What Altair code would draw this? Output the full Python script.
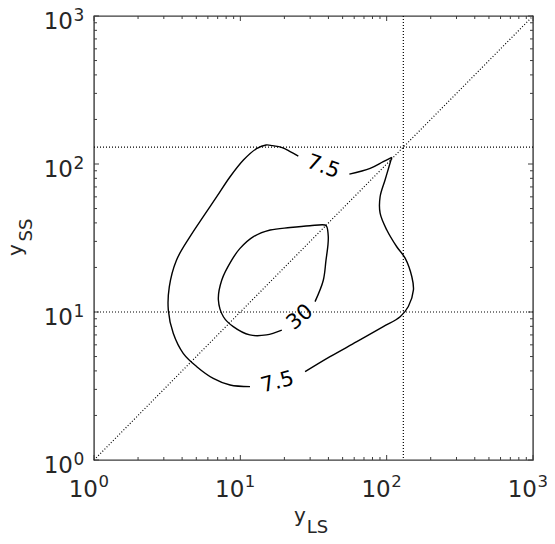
import altair as alt
import pandas as pd

# ---- data (data units, log-log axes) ----
# contour level 7.5 : piece from top label to cusp
c75_a_x = [55.6, 77.1, 94.8, 108.4]
c75_a_y = [85.5, 93.5, 103.8, 110.9]
# contour level 7.5 : from cusp down the right side to bottom label
c75_b_x = [108.4, 105.4, 97.5, 90.2, 90.2, 100.2, 117.2, 133.7, 148.6, 152.4, 140.6, 123.6, 94.8, 62.5, 41.0, 27.7]
c75_b_y = [110.9, 101.2, 78.0, 60.1, 46.5, 35.8, 27.6, 23.1, 17.3, 14.1, 10.9, 9.29, 7.96, 6.30, 4.99, 3.95]
# contour level 7.5 : from bottom label round the left side to top label
c75_c_x = [11.64, 8.51, 6.53, 5.04, 4.07, 3.48, 3.22, 3.27, 3.66, 4.53, 5.58, 6.90, 8.51, 10.5, 12.9, 15.0, 16.6, 19.3, 21.9, 24.9]
c75_c_y = [3.13, 3.21, 3.56, 4.27, 5.26, 7.18, 10.3, 14.8, 22.4, 32.3, 44.1, 60.1, 82.0, 106.4, 127.0, 134.5, 133.0, 129.1, 121.4, 113.2]
# contour level 30
c30_x = [32.4, 36.9, 38.5, 39.7, 39.9, 39.0, 37.9, 29.9, 21.9, 16.0, 12.3, 9.95, 8.73, 7.46, 7.08, 7.66, 8.95, 11.6, 15.1, 19.2]
c30_y = [11.75, 16.4, 22.4, 28.4, 32.3, 37.7, 38.7, 38.3, 37.2, 35.8, 32.3, 26.9, 22.4, 16.4, 12.05, 9.29, 7.96, 7.00, 7.00, 7.55]

label_text = ["7.5", "7.5", "30"]
label_x = [36.8, 17.96, 25.6]
label_y = [95.4, 3.34, 9.18]
label_angle = [20, 345, 320]

vline_x = [130]
hline_y = [10, 130]
diag_x = [1, 1000]
diag_y = [1, 1000]

major_ticks = [1, 10, 100, 1000]
tick_base = ["10", "10", "10", "10"]
tick_exp = ["0", "1", "2", "3"]
minor_ticks = [2, 3, 4, 5, 6, 7, 8, 9,
               20, 30, 40, 50, 60, 70, 80, 90,
               200, 300, 400, 500, 600, 700, 800, 900]

x_title = ["y", "LS"]
y_title = ["y", "SS"]

# ---- build tables ----
rows = []
for seg, (xs_, ys_) in enumerate([(c75_a_x, c75_a_y), (c75_b_x, c75_b_y),
                                   (c75_c_x, c75_c_y), (c30_x, c30_y)]):
    for i, (a, b) in enumerate(zip(xs_, ys_)):
        rows.append({"x": a, "y": b, "seg": seg, "idx": i})
contour_df = pd.DataFrame(rows)
labels_df = pd.DataFrame({"x": label_x, "y": label_y, "t": label_text, "a": label_angle})
vline_df = pd.DataFrame({"x": vline_x})
hline_df = pd.DataFrame({"y": hline_y})
diag_df = pd.DataFrame({"x": diag_x, "y": diag_y})
major_df = pd.DataFrame({"v": major_ticks, "base": tick_base, "exp": tick_exp})
minor_df = pd.DataFrame({"v": minor_ticks})

W, H = 439, 444
FONT = "DejaVu Sans"
TC = "#262626"
AC = "#3c3c3c"
xs = alt.Scale(type="log", domain=[1, 1000], nice=False)
ys = alt.Scale(type="log", domain=[1, 1000], nice=False)


def X(f="x"):
    return alt.X(f"{f}:Q", scale=xs, axis=None)


def Y(f="y"):
    return alt.Y(f"{f}:Q", scale=ys, axis=None)


dots = dict(color="black", strokeWidth=1.2, strokeDash=[1, 2])
vline = alt.Chart(vline_df).mark_rule(**dots).encode(x=X())
hline = alt.Chart(hline_df).mark_rule(**dots).encode(y=Y())
diag = alt.Chart(diag_df).mark_line(**dots).encode(x=X(), y=Y())

contours = alt.Chart(contour_df).mark_line(
    color="black", strokeWidth=1.4, interpolate="catmull-rom"
).encode(x=X(), y=Y(), detail="seg:N", order="idx:Q")

labels = alt.Chart(labels_df).mark_text(
    font=FONT, fontSize=21, color="black", align="center", baseline="middle"
).encode(x=X(), y=Y(), text="t:N", angle=alt.Angle("a:Q", scale=None))

tick_layers = []
for df, ln in [(major_df, 5), (minor_df, 3)]:
    tk = alt.Chart(df).mark_rule(color=AC, strokeWidth=1)
    tick_layers += [
        tk.encode(x=X("v"), y=alt.value(H), y2=alt.value(H - ln)),
        tk.encode(x=X("v"), y=alt.value(0), y2=alt.value(ln)),
        tk.encode(y=Y("v"), x=alt.value(0), x2=alt.value(ln)),
        tk.encode(y=Y("v"), x=alt.value(W), x2=alt.value(W - ln)),
    ]

txt = dict(font=FONT, color=TC, baseline="alphabetic")
xl_base = alt.Chart(major_df).mark_text(align="right", dx=4, fontSize=23, **txt).encode(
    x=X("v"), y=alt.value(H + 36.5), text="base:N")
xl_exp = alt.Chart(major_df).mark_text(align="left", dx=4.5, fontSize=16.5, **txt).encode(
    x=X("v"), y=alt.value(H + 27), text="exp:N")
yl_base = alt.Chart(major_df).mark_text(align="right", dy=12.5, fontSize=23, **txt).encode(
    y=Y("v"), x=alt.value(-21), text="base:N")
yl_exp = alt.Chart(major_df).mark_text(align="right", dy=4.5, fontSize=17, **txt).encode(
    y=Y("v"), x=alt.value(-9.7), text="exp:N")

xt_main = alt.Chart(pd.DataFrame({"t": [x_title[0]]})).mark_text(
    align="center", fontSize=20, **txt).encode(x=alt.value(206), y=alt.value(506), text="t:N")
xt_sub = alt.Chart(pd.DataFrame({"t": [x_title[1]]})).mark_text(
    align="left", fontSize=18, **txt).encode(x=alt.value(212.8), y=alt.value(517), text="t:N")
yt_main = alt.Chart(pd.DataFrame({"t": [y_title[0]]})).mark_text(
    align="center", fontSize=20, angle=270, **txt).encode(x=alt.value(-72.5), y=alt.value(234), text="t:N")
yt_sub = alt.Chart(pd.DataFrame({"t": [y_title[1]]})).mark_text(
    align="left", fontSize=18, angle=270, **txt).encode(x=alt.value(-62), y=alt.value(225.5), text="t:N")

chart = alt.layer(
    vline, hline, diag, contours, labels, *tick_layers,
    xl_base, xl_exp, yl_base, yl_exp, xt_main, xt_sub, yt_main, yt_sub
).properties(
    width=W, height=H,
    autosize=alt.AutoSizeParams(type="none"),
    padding={"left": 86, "top": 8, "right": 14, "bottom": 76},
    background="white",
).configure_view(stroke=AC, strokeWidth=1.4)

chart.save("out.html", embed_options={"renderer": "svg", "actions": False})
